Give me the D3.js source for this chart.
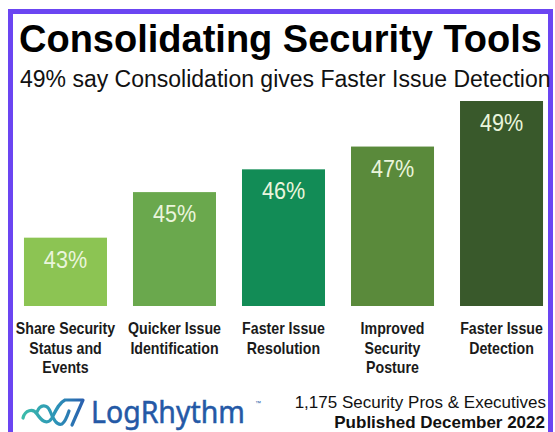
<!DOCTYPE html>
<html>
<head>
<meta charset="utf-8">
<script src="https://cdn.jsdelivr.net/npm/d3@7"></script>
<style>
  html, body { margin: 0; padding: 0; background: #fff; }
  svg { display: block; }
</style>
</head>
<body>
<div id="chart"></div>
<script>
// ---- Data -------------------------------------------------------------
const categories = [
  'Share Security\nStatus and\nEvents',
  'Quicker Issue\nIdentification',
  'Faster Issue\nResolution',
  'Improved\nSecurity\nPosture',
  'Faster Issue\nDetection'
];
const values = [43, 45, 46, 47, 49]; // percent

const title    = 'Consolidating Security Tools';
const subtitle = '49% say Consolidation gives Faster Issue Detection';
const footer   = ['1,175 Security Pros & Executives', 'Published December 2022'];

// ---- Styling ----------------------------------------------------------
const palette = ['#8cc453', '#6aa84d', '#128c56', '#5a8a3b', '#39592b'];
const font = '"Liberation Sans", Arial, sans-serif';

// ---- Dimensions -------------------------------------------------------
const width = 555, height = 432;
const baseY = 306, topY = 101;

const svg = d3.select('#chart')
  .append('svg')
  .attr('width', width)
  .attr('height', height);

svg.append('rect')
  .attr('width', width).attr('height', height)
  .attr('fill', '#fff');

// purple frame (runs off the bottom)
svg.append('rect')
  .attr('x', 10.5).attr('y', 11.5)
  .attr('width', 540).attr('height', 440)
  .attr('fill', '#fff')
  .attr('stroke', '#6b45f2')
  .attr('stroke-width', 5);

// ---- Titles -----------------------------------------------------------
svg.append('text')
  .attr('x', 19).attr('y', 52)
  .style('font', `bold 38px ${font}`)
  .attr('fill', '#000')
  .text(title);

svg.append('text')
  .attr('x', 20).attr('y', 87)
  .style('font', `23px ${font}`)
  .attr('fill', '#111')
  .text(subtitle);

// ---- Scales -----------------------------------------------------------
const xScale = d3.scaleBand()
  .domain(categories)
  .range([11, 556])
  .paddingInner(0.2385)
  .paddingOuter(0.119);

const yScale = d3.scaleLinear()
  .domain([40, 49])
  .range([baseY, topY]);

// ---- Bars -------------------------------------------------------------
const bars = svg.append('g')
  .selectAll('g')
  .data(values)
  .join('g');

bars.append('rect')
  .attr('x', (d, i) => xScale(categories[i]))
  .attr('y', d => yScale(d))
  .attr('width', xScale.bandwidth())
  .attr('height', d => baseY - yScale(d))
  .attr('fill', (d, i) => palette[i]);

bars.append('text')
  .attr('transform', (d, i) =>
    `translate(${xScale(categories[i]) + xScale.bandwidth() / 2},${yScale(d) + 30}) scale(0.9,1)`)
  .attr('text-anchor', 'middle')
  .style('font', `24px ${font}`)
  .attr('fill', '#eaf5dc')
  .text(d => d + '%');

// ---- Category labels --------------------------------------------------
const labels = svg.append('g')
  .selectAll('g')
  .data(categories)
  .join('g')
  .attr('transform', d => `translate(${xScale(d) + xScale.bandwidth() / 2},0)`);

labels.selectAll('text')
  .data(d => d.split('\n'))
  .join('text')
  .attr('transform', (d, j) => `translate(0,${334 + j * 19.5}) scale(0.86,1)`)
  .attr('text-anchor', 'middle')
  .style('font', `bold 16.5px ${font}`)
  .attr('fill', '#1a1a1a')
  .text(d => d);

// ---- Footer -----------------------------------------------------------
svg.append('text')
  .attr('x', 546).attr('y', 408)
  .attr('text-anchor', 'end')
  .style('font', `17px ${font}`)
  .attr('fill', '#111')
  .text(footer[0]);

svg.append('text')
  .attr('x', 545).attr('y', 428)
  .attr('text-anchor', 'end')
  .style('font', `bold 17px ${font}`)
  .attr('fill', '#111')
  .text(footer[1]);

// LogRhythm logo
const defs = svg.append('defs');
const grad = defs.append('linearGradient')
  .attr('id', 'logoGrad')
  .attr('gradientUnits', 'userSpaceOnUse')
  .attr('x1', 22).attr('x2', 84).attr('y1', 0).attr('y2', 0);
grad.append('stop').attr('offset', '0%').attr('stop-color', '#3cbcaa');
grad.append('stop').attr('offset', '55%').attr('stop-color', '#2c93b8');
grad.append('stop').attr('offset', '100%').attr('stop-color', '#2a5eae');

const logo = svg.append('g')
  .attr('fill', 'none')
  .attr('stroke', 'url(#logoGrad)')
  .attr('stroke-width', 3.2)
  .attr('stroke-linecap', 'round')
  .attr('stroke-linejoin', 'round');

logo.append('path')
  .attr('d', 'M23,418 C25,410 33,408 37,414 C41,420 47,426 52,418 C56,410 59,403 65,400 L83,400 L72,425');
logo.append('path')
  .attr('d', 'M37,412 C40,404 47,404 50,411 C53,419 57,426 62,424 C65,422 67,417 69,411');

svg.append('text')
  .attr('x', 91).attr('y', 423)
  .attr('textLength', 154)
  .attr('lengthAdjust', 'spacingAndGlyphs')
  .style('font', `30px "Noto Sans", sans-serif`)
  .attr('fill', '#2459a6')
  .attr('stroke', '#2459a6')
  .attr('stroke-width', 0.5)
  .text('LogRhythm');

svg.append('text')
  .attr('x', 255).attr('y', 405)
  .style('font', `6px ${font}`)
  .attr('fill', '#2459a6')
  .text('™');
</script>
</body>
</html>
